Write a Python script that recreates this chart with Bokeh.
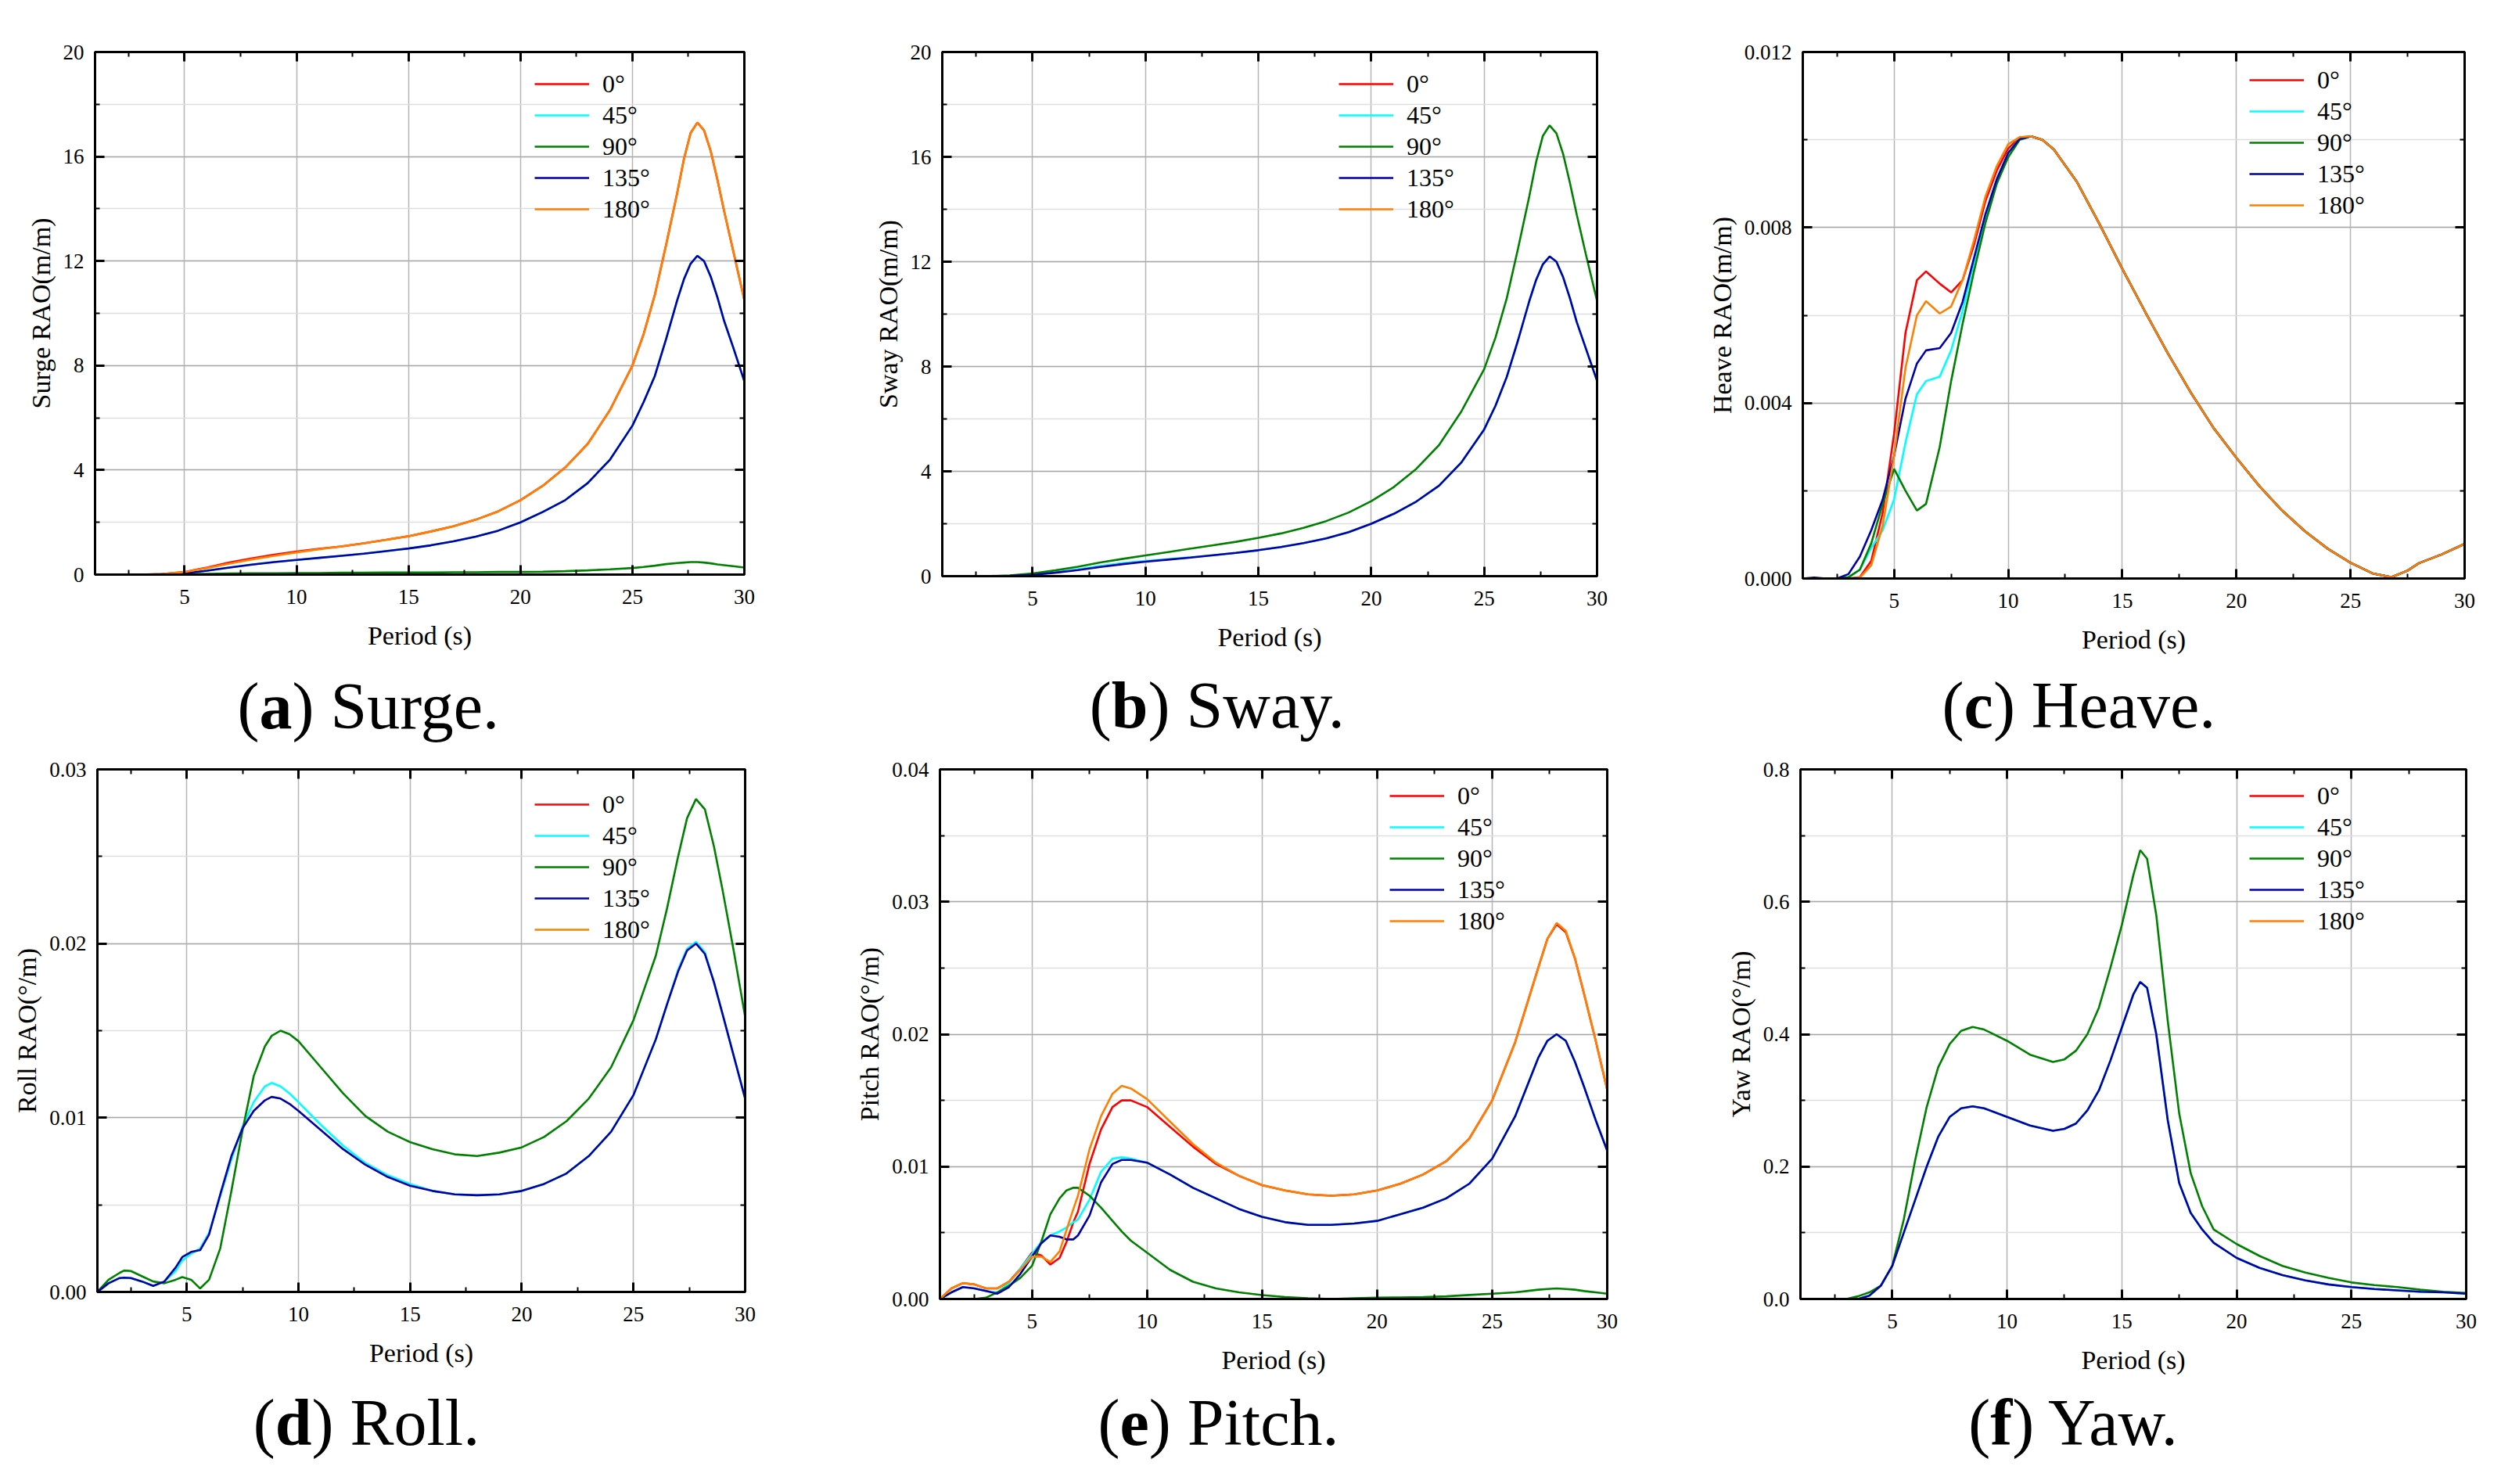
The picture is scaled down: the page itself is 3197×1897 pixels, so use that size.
from bokeh.plotting import figure
from bokeh.models import (Range1d, SingleIntervalTicker, LinearAxis, Legend,
                          LegendItem, PrintfTickFormatter)
from bokeh.layouts import column, row
from bokeh.core.properties import value
from bokeh.embed import file_html
from bokeh.resources import INLINE

# ---------------- data ----------------
headings = ["0°", "45°", "90°", "135°", "180°"]
colors = ["#ff0000", "#00ffff", "#008000", "#0000a8", "#ff8000"]

# (a) Surge / (b) Sway
x_ab = [1, 2, 3, 4, 5, 6, 7, 8, 9, 10, 11, 12, 13, 14, 15, 16, 17, 18, 19, 20,
        21, 22, 23, 24, 25, 25.5, 26, 26.5, 27, 27.3, 27.6, 27.9, 28.2, 28.5, 28.8, 29.1,
        29.5, 30]
surge_0 = [0, 0, 0, 0.02, 0.1, 0.27, 0.46, 0.62, 0.76, 0.88, 0.99, 1.08, 1.2, 1.33, 1.47,
           1.65, 1.85, 2.1, 2.42, 2.85, 3.4, 4.1, 5.0, 6.3, 8.0, 9.2, 10.7, 12.6, 14.6,
           15.9, 16.9, 17.3, 17.0, 16.2, 15.1, 13.9, 12.4, 10.5]
surge_45 = [0, 0, 0, 0.01, 0.05, 0.15, 0.27, 0.38, 0.48, 0.56, 0.64, 0.72, 0.8, 0.9, 1.0,
            1.12, 1.27, 1.45, 1.68, 2.0, 2.4, 2.85, 3.5, 4.4, 5.7, 6.6, 7.6, 9.0, 10.5,
            11.3, 11.9, 12.2, 12.0, 11.4, 10.6, 9.7, 8.7, 7.4]
surge_90 = [0, 0, 0, 0.01, 0.02, 0.03, 0.04, 0.05, 0.05, 0.06, 0.06, 0.07, 0.07, 0.08, 0.08,
            0.08, 0.09, 0.09, 0.1, 0.1, 0.11, 0.13, 0.16, 0.2, 0.25, 0.29, 0.34, 0.4, 0.44,
            0.46, 0.48, 0.48, 0.46, 0.43, 0.39, 0.36, 0.32, 0.27]
surge_135 = [0, 0, 0, 0.01, 0.05, 0.15, 0.27, 0.38, 0.48, 0.56, 0.64, 0.72, 0.8, 0.9, 1.0,
             1.12, 1.27, 1.45, 1.68, 2.0, 2.4, 2.85, 3.5, 4.4, 5.7, 6.6, 7.6, 9.0, 10.5,
             11.3, 11.9, 12.2, 12.0, 11.4, 10.6, 9.7, 8.7, 7.4]
surge_180 = [0, 0, 0, 0.02, 0.1, 0.25, 0.42, 0.58, 0.72, 0.85, 0.97, 1.08, 1.2, 1.33, 1.47,
             1.65, 1.85, 2.1, 2.42, 2.85, 3.4, 4.1, 5.0, 6.3, 8.0, 9.2, 10.7, 12.6, 14.6,
             15.9, 16.9, 17.3, 17.0, 16.2, 15.1, 13.9, 12.4, 10.5]

sway_0 = [0] * 38
sway_45 = [0, 0, 0, 0.01, 0.05, 0.14, 0.26, 0.39, 0.5, 0.58, 0.65, 0.72, 0.8, 0.89, 0.99,
           1.11, 1.26, 1.44, 1.68, 2.0, 2.38, 2.85, 3.45, 4.35, 5.6, 6.5, 7.6, 9.0, 10.5,
           11.3, 11.9, 12.2, 12.0, 11.4, 10.6, 9.7, 8.7, 7.45]
sway_90 = [0, 0, 0, 0.03, 0.1, 0.22, 0.36, 0.52, 0.66, 0.79, 0.92, 1.05, 1.18, 1.31, 1.46,
           1.63, 1.84, 2.1, 2.43, 2.86, 3.4, 4.1, 5.0, 6.3, 7.9, 9.1, 10.6, 12.5, 14.5,
           15.8, 16.8, 17.2, 16.9, 16.1, 15.0, 13.8, 12.3, 10.5]
sway_135 = [0, 0, 0, 0.01, 0.05, 0.13, 0.23, 0.35, 0.46, 0.55, 0.63, 0.71, 0.8, 0.89, 0.99,
            1.11, 1.26, 1.44, 1.68, 2.0, 2.38, 2.85, 3.45, 4.35, 5.6, 6.5, 7.6, 9.0, 10.5,
            11.3, 11.9, 12.2, 12.0, 11.4, 10.6, 9.7, 8.7, 7.45]
sway_180 = [0] * 38

# (c) Heave
x_c = [1, 1.5, 2, 2.5, 3, 3.5, 4, 4.5, 5, 5.5, 6, 6.4, 7, 7.5, 8, 8.5, 9, 9.5, 10, 10.5,
       11, 11.5, 12, 13, 14, 15, 16, 17, 18, 19, 20, 21, 22, 23, 24, 25, 26, 26.8, 27.5,
       28, 29, 30]
heave_tail = [0.01008, 0.01000, 0.00978, 0.00905, 0.00808, 0.00706, 0.00608, 0.00513,
              0.00424, 0.00343, 0.00275, 0.00211, 0.00155, 0.00108, 0.00068, 0.00036,
              0.00011, 0.00003, 0.00018, 0.00035, 0.00055, 0.00079]
heave_0 = [0, 0, 0, 0, 0, 0.00003, 0.0004, 0.0015, 0.0033, 0.0056, 0.0068, 0.0070, 0.00672,
           0.00652, 0.0068, 0.0076, 0.0086, 0.0093, 0.0098, 0.01005] + heave_tail
heave_45 = [0, 0, 0, 0, 0.00003, 0.0002, 0.0007, 0.0011, 0.0018, 0.0031, 0.0042, 0.0045,
            0.0046, 0.0052, 0.0061, 0.0072, 0.0082, 0.0090, 0.0097, 0.01003] + heave_tail
heave_90 = [0, 0, 0, 0, 0.00003, 0.0002, 0.0008, 0.0017, 0.0025, 0.0020, 0.00155, 0.0017,
            0.0030, 0.0045, 0.0058, 0.0070, 0.0081, 0.0090, 0.0096, 0.0100] + heave_tail
heave_135 = [0, 0.00002, 0, 0, 0.0001, 0.0005, 0.0011, 0.0018, 0.0028, 0.0041, 0.0049, 0.0052,
             0.00525, 0.0056, 0.0063, 0.0073, 0.0083, 0.0091, 0.0097, 0.01002] + heave_tail
heave_180 = [0, 0, 0, 0, 0, 0.00002, 0.0003, 0.0012, 0.0028, 0.0048, 0.0060, 0.00632, 0.00604,
             0.0062, 0.0068, 0.0077, 0.0087, 0.0094, 0.0099, 0.01006] + heave_tail

# (d) Roll
x_d = [1, 1.5, 2, 2.2, 2.5, 3, 3.5, 4, 4.5, 4.8, 5.2, 5.6, 6, 6.5, 7, 7.5, 8, 8.5, 8.8, 9.2,
       9.6, 10, 11, 12, 13, 14, 15, 16, 17, 18, 19, 20, 21, 22, 23, 24, 25, 26, 26.5, 27,
       27.4, 27.8, 28.2, 28.6, 29, 29.5, 30]
roll_0 = [0] * 47
roll_45 = [0, 0.0005, 0.0008, 0.00082, 0.0008, 0.0006, 0.00035, 0.0006, 0.0012, 0.0018,
           0.0022, 0.0025, 0.0034, 0.0055, 0.0076, 0.0095, 0.0109, 0.0118, 0.0120, 0.0118,
           0.0114, 0.0109, 0.0096, 0.0084, 0.0074, 0.0067, 0.0062, 0.0058, 0.0056, 0.00555,
           0.0056, 0.0058, 0.0062, 0.0068, 0.0078, 0.0092, 0.0113, 0.0145, 0.0165, 0.0185,
           0.0197, 0.0201, 0.0195, 0.0178, 0.0159, 0.0135, 0.0111]
roll_90 = [0, 0.0007, 0.0011, 0.00123, 0.0012, 0.0009, 0.0006, 0.0005, 0.0007, 0.00085,
           0.0007, 0.0002, 0.0007, 0.0025, 0.0058, 0.0093, 0.0124, 0.0141, 0.0147, 0.0150,
           0.0148, 0.0144, 0.0129, 0.0114, 0.0101, 0.0092, 0.0086, 0.0082, 0.0079, 0.0078,
           0.0080, 0.0083, 0.0089, 0.0098, 0.0111, 0.0129, 0.0156, 0.0193, 0.0220, 0.0250,
           0.0272, 0.0283, 0.0277, 0.0256, 0.0230, 0.0195, 0.0158]
roll_135 = [0, 0.0005, 0.0008, 0.00082, 0.0008, 0.0006, 0.00035, 0.0006, 0.0014, 0.0020,
            0.0023, 0.0024, 0.0033, 0.0056, 0.0078, 0.0094, 0.0104, 0.0110, 0.0112, 0.0111,
            0.0108, 0.0104, 0.0093, 0.0082, 0.0073, 0.0066, 0.0061, 0.0058, 0.0056, 0.00555,
            0.0056, 0.0058, 0.0062, 0.0068, 0.0078, 0.0092, 0.0113, 0.0145, 0.0165, 0.0184,
            0.0196, 0.0200, 0.0194, 0.0178, 0.0159, 0.0135, 0.0111]
roll_180 = [0] * 47

# (e) Pitch
x_e = [1, 1.5, 2, 2.5, 3, 3.5, 4, 4.5, 5, 5.4, 5.8, 6.2, 6.5, 6.8, 7, 7.5, 8, 8.5, 8.9, 9.3,
       10, 11, 12, 13, 14, 15, 16, 17, 18, 19, 20, 21, 22, 23, 24, 25, 26, 26.5, 27, 27.4,
       27.8, 28.2, 28.6, 29, 29.5, 30]
pitch_0 = [0, 0.0008, 0.0012, 0.0011, 0.0008, 0.0008, 0.0013, 0.0023, 0.0035, 0.0033, 0.0026,
           0.0031, 0.0043, 0.0058, 0.0066, 0.0102, 0.0128, 0.0145, 0.0150, 0.0150, 0.0145,
           0.0130, 0.0115, 0.0102, 0.0093, 0.0086, 0.0082, 0.0079, 0.0078, 0.0079, 0.0082,
           0.0087, 0.0094, 0.0104, 0.0121, 0.0150, 0.0194, 0.0222, 0.0250, 0.0272, 0.0283,
           0.0277, 0.0257, 0.0230, 0.0195, 0.0158]
pitch_45 = [0, 0.0005, 0.0009, 0.0008, 0.0006, 0.0005, 0.0012, 0.0023, 0.0034, 0.0043, 0.0048,
            0.0051, 0.0054, 0.0058, 0.0060, 0.0075, 0.0096, 0.0106, 0.0107, 0.0106, 0.0103,
            0.0094, 0.0084, 0.0076, 0.0068, 0.0062, 0.0058, 0.0056, 0.0056, 0.0057, 0.0059,
            0.0064, 0.0069, 0.0076, 0.0087, 0.0106, 0.0138, 0.0160, 0.0182, 0.0195, 0.0200,
            0.0195, 0.0179, 0.0160, 0.0135, 0.0112]
pitch_90 = [0, 0, 0, 0, 0.0001, 0.0005, 0.0010, 0.0016, 0.0025, 0.0043, 0.0064, 0.0076, 0.0082,
            0.0084, 0.0084, 0.0078, 0.0069, 0.0059, 0.0051, 0.0044, 0.0035, 0.0022, 0.0013,
            0.0008, 0.0005, 0.0003, 0.00015, 0.00005, 0.0, 0.00005, 0.0001, 0.00012, 0.00015,
            0.0002, 0.0003, 0.0004, 0.0005, 0.0006, 0.0007, 0.00075, 0.0008, 0.00075, 0.0007,
            0.0006, 0.0005, 0.0004]
pitch_135 = [0, 0.0005, 0.0009, 0.0008, 0.0006, 0.0004, 0.0009, 0.0019, 0.0032, 0.0042, 0.0048,
             0.0047, 0.0045, 0.0045, 0.0048, 0.0063, 0.0088, 0.0102, 0.0105, 0.0105, 0.0103,
             0.0094, 0.0084, 0.0076, 0.0068, 0.0062, 0.0058, 0.0056, 0.0056, 0.0057, 0.0059,
             0.0064, 0.0069, 0.0076, 0.0087, 0.0106, 0.0138, 0.0160, 0.0182, 0.0195, 0.0200,
             0.0195, 0.0179, 0.0160, 0.0135, 0.0112]
pitch_180 = [0, 0.0008, 0.0012, 0.0011, 0.0008, 0.0008, 0.0013, 0.0022, 0.0032, 0.0032, 0.0028,
             0.0036, 0.0052, 0.0068, 0.0078, 0.0113, 0.0138, 0.0155, 0.0161, 0.0159, 0.0151,
             0.0134, 0.0117, 0.0103, 0.0093, 0.0086, 0.0082, 0.0079, 0.0078, 0.0079, 0.0082,
             0.0087, 0.0094, 0.0104, 0.0121, 0.0150, 0.0194, 0.0222, 0.0250, 0.0272, 0.0284,
             0.0278, 0.0257, 0.0230, 0.0195, 0.0158]

# (f) Yaw
x_f = [1, 2, 3, 3.5, 4, 4.5, 5, 5.5, 6, 6.5, 7, 7.5, 8, 8.5, 9, 10, 11, 12, 12.5, 13, 13.5,
       14, 14.5, 15, 15.5, 15.8, 16.1, 16.5, 17, 17.5, 18, 18.5, 19, 20, 21, 22, 23, 24, 25,
       26, 27, 28, 29, 30]
yaw_0 = [0] * 44
yaw_45 = [0, 0, 0, 0, 0.005, 0.02, 0.05, 0.10, 0.15, 0.20, 0.245, 0.275, 0.288, 0.291, 0.288,
          0.275, 0.262, 0.254, 0.257, 0.265, 0.285, 0.315, 0.36, 0.41, 0.46, 0.479, 0.47,
          0.40, 0.27, 0.175, 0.13, 0.105, 0.085, 0.062, 0.047, 0.036, 0.028, 0.022, 0.018,
          0.015, 0.013, 0.011, 0.010, 0.008]
yaw_90 = [0, 0, 0, 0.004, 0.01, 0.02, 0.05, 0.12, 0.21, 0.29, 0.35, 0.385, 0.405, 0.411, 0.407,
          0.39, 0.369, 0.358, 0.362, 0.375, 0.40, 0.44, 0.50, 0.565, 0.64, 0.678, 0.665,
          0.58, 0.42, 0.28, 0.19, 0.14, 0.105, 0.083, 0.065, 0.05, 0.04, 0.032, 0.025, 0.021,
          0.018, 0.014, 0.011, 0.009]
yaw_135 = [0, 0, 0, 0, 0.005, 0.02, 0.05, 0.10, 0.15, 0.20, 0.245, 0.275, 0.288, 0.291, 0.288,
           0.275, 0.262, 0.254, 0.257, 0.265, 0.285, 0.315, 0.36, 0.41, 0.46, 0.479, 0.47,
           0.40, 0.27, 0.175, 0.13, 0.105, 0.085, 0.062, 0.047, 0.036, 0.028, 0.022, 0.018,
           0.015, 0.013, 0.011, 0.010, 0.008]
yaw_180 = [0] * 44

# ---------------- styling helpers ----------------
FONT = "Liberation Serif"
ITEM_H = 40      # one legend row
CAP_SIZE = 84
CAP_MID = 28     # distance from baseline up to the middle of the text box
W_PAREN = 0.333
W_BOLD = {"a": 0.5, "b": 0.556, "c": 0.444, "d": 0.556, "e": 0.444, "f": 0.333}
W_REST = {"Surge": 2.333, "Sway": 2.222, "Heave": 2.554, "Roll": 1.723,
          "Pitch": 2.056, "Yaw": 1.888}


def style_axis(ax, labels=True):
    ax.axis_line_width = 3
    ax.axis_line_color = "black"
    ax.major_tick_in = 12
    ax.major_tick_out = 0
    ax.minor_tick_in = 6
    ax.minor_tick_out = 0
    ax.major_tick_line_width = 3
    ax.minor_tick_line_width = 2
    ax.major_tick_line_color = "black"
    ax.minor_tick_line_color = "black"
    if labels:
        ax.major_label_text_font = FONT
        ax.major_label_text_font_size = "27px"
        ax.major_label_text_color = "black"
        ax.axis_label_text_font = FONT
        ax.axis_label_text_font_size = "34px"
        ax.axis_label_text_font_style = "normal"
        ax.axis_label_text_color = "black"
    else:
        # mirrored tick-only axis: labels are not drawn at all
        ax.major_label_text_font_size = "0px"
        ax.major_label_text_color = None
        ax.major_label_text_alpha = 0
        ax.major_label_standoff = 0


def make_panel(x, ys, ymax, yint, fmt, ylabel, frame, borders, legend_pos):
    fw, fh = frame
    bl, br, bt, bb = borders
    p = figure(frame_width=fw, frame_height=fh,
               min_border_left=bl, min_border_right=br,
               min_border_top=bt, min_border_bottom=bb,
               x_range=Range1d(1, 30), y_range=Range1d(0, ymax),
               output_backend="svg", toolbar_location=None, title=None,
               x_axis_label="Period (s)", y_axis_label=ylabel)
    p.outline_line_color = "black"
    p.outline_line_width = 3
    p.background_fill_color = "white"
    p.border_fill_color = "white"

    xt = SingleIntervalTicker(interval=5, num_minor_ticks=2)
    yt = SingleIntervalTicker(interval=yint, num_minor_ticks=2)
    p.xaxis.ticker = xt
    p.yaxis.ticker = yt
    p.xgrid.ticker = xt
    p.ygrid.ticker = yt
    p.yaxis.formatter = PrintfTickFormatter(format=fmt)
    for ax in p.xaxis + p.yaxis:
        style_axis(ax)
    p.xaxis.major_label_standoff = 19
    p.yaxis.major_label_standoff = 14
    p.xaxis.axis_label_standoff = 19
    p.yaxis.axis_label_standoff = 7

    top = LinearAxis(ticker=xt)
    style_axis(top, labels=False)
    p.add_layout(top, "above")
    right = LinearAxis(ticker=yt)
    style_axis(right, labels=False)
    p.add_layout(right, "right")

    p.xgrid.grid_line_color = "#b4b4b4"
    p.xgrid.grid_line_width = 1.5
    p.ygrid.grid_line_color = "#a8a8a8"
    p.ygrid.grid_line_width = 1.5
    p.ygrid.minor_grid_line_color = "#dedede"
    p.ygrid.minor_grid_line_width = 1.5

    rends = []
    for yv, c in zip(ys, colors):
        rends.append(p.line(x, yv, line_color=c, line_width=2.6))

    gx, gy = legend_pos
    leg_h = 5 * ITEM_H
    loc_y = fh - (gy - ITEM_H / 2) - leg_h
    legend = Legend(
        items=[LegendItem(label=h, renderers=[r]) for h, r in zip(headings, rends)],
        location=(gx, loc_y), orientation="vertical",
        glyph_width=70, glyph_height=ITEM_H, label_height=ITEM_H, spacing=0,
        padding=0, margin=0, label_standoff=17,
        border_line_alpha=0, background_fill_alpha=0,
        label_text_font=FONT, label_text_font_size="32px",
        label_text_color="black", label_text_baseline="middle")
    p.add_layout(legend)
    return p


def caption(width, height, cx, base, letter, word):
    c = figure(width=width, height=height, x_range=Range1d(0, width),
               y_range=Range1d(0, height), output_backend="svg",
               toolbar_location=None, min_border=0, title=None,
               x_axis_location=None, y_axis_location=None)
    c.grid.visible = False
    c.outline_line_color = None
    c.background_fill_color = "white"
    c.border_fill_color = "white"
    total = (W_PAREN + W_BOLD[letter] + 0.333 + 0.25 + W_REST[word] + 0.25) * CAP_SIZE
    x0 = cx - total / 2 + W_PAREN * CAP_SIZE
    wb = W_BOLD[letter] * CAP_SIZE
    ym = base + CAP_MID
    common = dict(text_font=value(FONT), text_font_size=f"{CAP_SIZE}px",
                  text_color="black", text_baseline="middle")
    c.text(x=[x0], y=[ym], text=["("], text_align="right", **common)
    c.text(x=[x0], y=[ym], text=[letter], text_align="left",
           text_font_style="bold", **common)
    c.text(x=[x0 + wb], y=[ym], text=[") " + word + "."], text_align="left", **common)
    return c


# top row: frames start 66px down, 116px bottom border; bottom row: 33px / 112px
pa = make_panel(x_ab, [surge_0, surge_45, surge_90, surge_135, surge_180], 20, 4, "%d",
                "Surge RAO(m/m)", (830, 668), (121, 123, 66, 116), (562, 41))
pb = make_panel(x_ab, [sway_0, sway_45, sway_90, sway_135, sway_180], 20, 4, "%d",
                "Sway RAO(m/m)", (837, 670), (130, 99, 66, 116), (507, 41))
pc = make_panel(x_c, [heave_0, heave_45, heave_90, heave_135, heave_180], 0.012, 0.004,
                "%.3f", "Heave RAO(m/m)", (846, 673), (164, 39, 66, 116), (571, 36))
pd = make_panel(x_d, [roll_0, roll_45, roll_90, roll_135, roll_180], 0.03, 0.01, "%.2f",
                "Roll RAO(°/m)", (828, 668), (124, 122, 33, 112), (559, 45))
pe = make_panel(x_e, [pitch_0, pitch_45, pitch_90, pitch_135, pitch_180], 0.04, 0.01,
                "%.2f", "Pitch RAO(°/m)", (853, 677), (127, 86, 33, 112), (575, 34))
pf = make_panel(x_f, [yaw_0, yaw_45, yaw_90, yaw_135, yaw_180], 0.8, 0.2, "%.1f",
                "Yaw RAO(°/m)", (851, 677), (161, 37, 33, 112), (574, 34))

ca = caption(1074, 95, 471, 20, "a", "Surge")
cb = caption(1066, 95, 484, 21, "b", "Sway")
cc = caption(1049, 95, 517, 21, "c", "Heave")
cd = caption(1074, 117, 468, 43, "d", "Roll")
ce = caption(1066, 117, 483, 43, "e", "Pitch")
cf = caption(1049, 117, 518, 43, "f", "Yaw")

layout = column(row(pa, pb, pc), row(ca, cb, cc), row(pd, pe, pf), row(cd, ce, cf))
open("out.html", "w").write(file_html(layout, INLINE))
